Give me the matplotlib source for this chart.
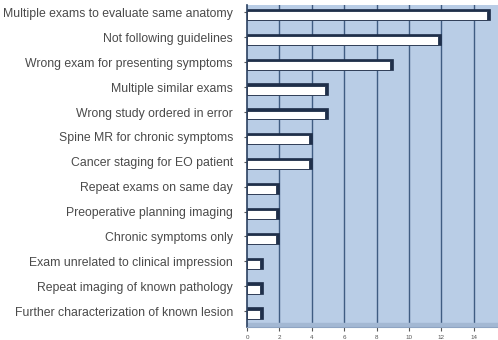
import numpy as np
import matplotlib.pyplot as plt

# reasons for inappropriate imaging, counts per category
reasons = [
    "Multiple exams to evaluate same anatomy",
    "Not following guidelines",
    "Wrong exam for presenting symptoms",
    "Multiple similar exams",
    "Wrong study ordered in error",
    "Spine MR for chronic symptoms",
    "Cancer staging for EO patient",
    "Repeat exams on same day",
    "Preoperative planning imaging",
    "Chronic symptoms only",
    "Exam unrelated to clinical impression",
    "Repeat imaging of known pathology",
    "Further characterization of known lesion",
]
counts = [15, 12, 9, 5, 5, 4, 4, 2, 2, 2, 1, 1, 1]
xticks = [0, 2, 4, 6, 8, 10, 12, 14]

plt.rcParams['font.family'] = ['Liberation Sans', 'DejaVu Sans']

fig = plt.figure(figsize=(4.98, 3.40), dpi=100)
ax = fig.add_axes([247 / 498, 1 - 327 / 340, 1 - 247 / 498, 322 / 340])

wall = '#b9cde6'
floor = '#a3b8d3'
edge = '#1f2f4a'
ax.set_facecolor(wall)

y = np.arange(len(counts))
depth_x = 0.18
depth_y = 0.09
h = 0.36

# vertical gridlines on the back wall
for t in xticks[1:]:
    ax.axvline(t, color='#3f5c82', lw=1.0, zorder=1)

# 3D-style bars: dark top/side behind a white front face
ax.barh(y - depth_y / 2, counts, height=h + depth_y, color=edge,
        edgecolor=edge, lw=0.5, zorder=2)
ax.barh(y, np.array(counts) - depth_x, height=h, color='white',
        edgecolor=edge, lw=0.6, zorder=3)

# floor band under the wall
ax.axhspan(12.52, 12.35, color=floor, zorder=1.5)

ax.set_xlim(0, 15.5)
ax.set_ylim(12.52, -0.42)

ax.set_yticks(y - 0.12)
ax.set_yticklabels(reasons, fontsize=8.8, color='#4a4a4a')
ax.tick_params(axis='y', length=2, pad=8, color='#555555')

ax.set_xticks(xticks)
ax.set_xticklabels([str(t) for t in xticks], fontsize=4.5, color='#555555')
ax.tick_params(axis='x', length=3, pad=3, color='#555555')

for side in ['top', 'right']:
    ax.spines[side].set_visible(False)
ax.spines['left'].set_color('#2a4060')
ax.spines['left'].set_linewidth(1.2)
ax.spines['bottom'].set_color('#8ea4c2')

fig.savefig('out.png', dpi=100)
